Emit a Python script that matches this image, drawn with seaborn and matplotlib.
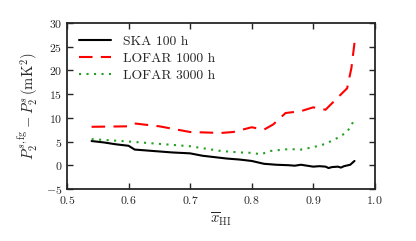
import matplotlib
matplotlib.use('Agg')
import matplotlib.pyplot as plt
import seaborn as sns

# values
ska_x = [0.54, 0.56, 0.58, 0.60, 0.605, 0.61, 0.63, 0.65, 0.67, 0.70, 0.72, 0.74, 0.76, 0.78, 0.80,
         0.81, 0.82, 0.84, 0.86, 0.87, 0.88, 0.89, 0.90, 0.91, 0.92, 0.925, 0.93, 0.94, 0.945, 0.95, 0.96, 0.967]
ska_y = [5.1, 4.8, 4.4, 4.1, 3.7, 3.3, 3.1, 2.9, 2.7, 2.5, 2.0, 1.7, 1.4, 1.2, 0.9,
         0.6, 0.3, 0.1, 0.0, -0.1, 0.1, -0.1, -0.3, -0.2, -0.3, -0.6, -0.4, -0.3, -0.5, -0.2, 0.1, 0.9]

lofar1000_x = [0.54, 0.60, 0.61, 0.65, 0.70, 0.75, 0.77, 0.80, 0.82, 0.835, 0.855, 0.88, 0.90, 0.92,
               0.94, 0.955, 0.962, 0.967]
lofar1000_y = [8.1, 8.2, 8.8, 8.2, 7.0, 6.8, 7.0, 8.0, 7.5, 8.6, 11.0, 11.4, 12.2, 11.7,
               14.3, 16.2, 20.5, 25.8]

lofar3000_x = [0.54, 0.60, 0.65, 0.70, 0.75, 0.78, 0.80, 0.815, 0.83, 0.86, 0.88, 0.90, 0.92,
               0.94, 0.955, 0.967]
lofar3000_y = [5.5, 5.0, 4.5, 4.0, 3.0, 2.7, 2.6, 2.3, 3.0, 3.4, 3.3, 3.8, 4.5,
               5.8, 7.0, 9.6]

sns.set_style('ticks')
plt.rcParams['font.family'] = 'serif'
plt.rcParams['font.serif'] = ['cmr10', 'DejaVu Serif']
plt.rcParams['mathtext.fontset'] = 'cm'
plt.rcParams['axes.formatter.use_mathtext'] = True

fig = plt.figure(figsize=(4.16, 2.41), dpi=100)
ax = fig.add_axes([0.161, 0.216, 0.740, 0.689])

sns.lineplot(x=ska_x, y=ska_y, ax=ax, color='black', lw=1.5, label='SKA 100 h')
sns.lineplot(x=lofar1000_x, y=lofar1000_y, ax=ax, color='red', lw=1.5,
             dashes=False, label='LOFAR 1000 h')
ax.lines[-1].set_dashes([6.5, 4])
sns.lineplot(x=lofar3000_x, y=lofar3000_y, ax=ax, color='#22a022', lw=1.5, label='LOFAR 3000 h')
ax.lines[-1].set_linestyle((0, (1, 2.6)))

ax.set_xlim(0.5, 1.0)
ax.set_ylim(-5, 30)
ax.set_xticks([0.5, 0.6, 0.7, 0.8, 0.9, 1.0])
ax.set_yticks([-5, 0, 5, 10, 15, 20, 25, 30])
ax.tick_params(direction='in', top=True, right=True, labelsize=8.5, length=4, width=1)
for s in ax.spines.values():
    s.set_linewidth(1.3)

ax.set_xlabel(r'$\overline{x}_{\mathrm{HI}}$', fontsize=10.5)
ax.set_ylabel(r'$P_2^{s,\mathrm{fg}} - P_2^{s}\,(\mathrm{mK}^2)$', fontsize=10.5)
ax.legend(loc='upper left', frameon=False, fontsize=9.8, handlelength=2.3,
          borderaxespad=0.5, labelspacing=0.35, handletextpad=0.9)

fig.savefig('out.png', dpi=100)
